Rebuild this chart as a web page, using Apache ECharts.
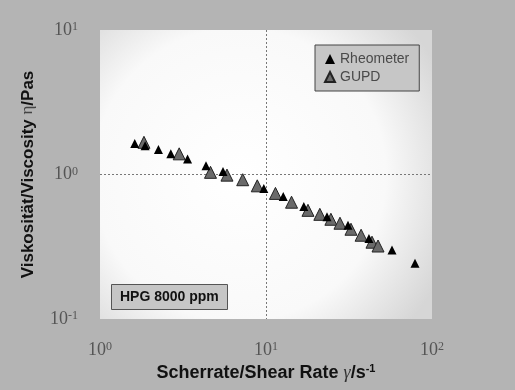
<!DOCTYPE html>
<html>
<head>
<meta charset="utf-8">
<script src="https://cdn.jsdelivr.net/npm/echarts@6/dist/echarts.min.js"></script>
<style>
  html, body { margin: 0; padding: 0; background: #b4b4b4; }
  #chart { width: 515px; height: 390px; }
</style>
</head>
<body>
<div id="chart"></div>
<script>
// Rheometer measurements (shear rate 1/s, viscosity Pa s)
const rheoX = [1.62, 1.87, 2.25, 2.67, 3.37, 4.35, 5.51, 9.7, 12.7, 16.9, 23.3, 31.2, 41.7, 57.4, 79]
const rheoY = [1.64, 1.58, 1.49, 1.39, 1.28, 1.15, 1.05, 0.80, 0.705, 0.60, 0.51, 0.445, 0.36, 0.30, 0.243]

// GUPD measurements
const gupdX = [1.84, 3.0, 4.63, 5.82, 7.24, 8.86, 11.4, 14.25, 17.9, 21.1, 24.6, 27.9, 32.5, 37.4, 43.5, 47.3]
const gupdY = [1.67, 1.39, 1.035, 0.99, 0.92, 0.835, 0.74, 0.643, 0.565, 0.53, 0.49, 0.46, 0.418, 0.38, 0.34, 0.32]

const xTickLabels = { 1: '0', 10: '1', 100: '2' }
const yTickLabels = { 0.1: '-1', 1: '0', 10: '1' }

const pairs = (xs, ys) => xs.map((x, i) => [x, ys[i]])

const tickRich = {
  b: { fontFamily: 'Liberation Serif', fontSize: 18, color: '#555', lineHeight: 18 },
  s: { fontFamily: 'Liberation Serif', fontSize: 12, color: '#555', lineHeight: 12, verticalAlign: 'top' },
}

const chart = echarts.init(document.getElementById('chart'), null, { renderer: 'canvas' })

chart.setOption({
  animation: false,
  backgroundColor: '#b4b4b4',
  title: {
    text: 'HPG 8000 ppm',
    left: 111,
    top: 284,
    backgroundColor: '#c6c6c6',
    borderColor: '#555',
    borderWidth: 1,
    padding: [6, 9],
    textStyle: { fontFamily: 'Liberation Sans', fontSize: 14, fontWeight: 'bold', color: '#111' },
  },
  legend: {
    orient: 'vertical',
    left: 315,
    top: 45,
    padding: [7, 10, 7, 9],
    itemGap: 4,
    itemWidth: 10,
    itemHeight: 10,
    backgroundColor: '#c6c6c6',
    borderColor: '#444',
    borderWidth: 1,
    borderRadius: 0,
    textStyle: { fontFamily: 'Liberation Sans', fontSize: 14, color: '#4a4a4a' },
    data: ['Rheometer', 'GUPD'],
  },
  grid: {
    left: 100,
    right: 83,
    top: 30,
    bottom: 71,
    show: true,
    borderWidth: 0,
    backgroundColor: {
      type: 'radial', x: 0.42, y: 0.5, r: 0.78,
      colorStops: [
        { offset: 0, color: '#ffffff' },
        { offset: 0.65, color: '#f9f9f9' },
        { offset: 1, color: '#d6d6d6' },
      ],
    },
  },
  xAxis: {
    type: 'log',
    logBase: 10,
    min: 1,
    max: 100,
    name: '{t|Scherrate/Shear Rate }{g|γ}{t|/s}{e|-1}',
    nameLocation: 'middle',
    nameGap: 44,
    nameTextStyle: {
      rich: {
        t: { fontFamily: 'Liberation Sans', fontSize: 18, fontWeight: 'bold', color: '#111', lineHeight: 18 },
        g: { fontFamily: 'Liberation Serif', fontSize: 18, fontStyle: 'italic', color: '#333', lineHeight: 18 },
        e: { fontFamily: 'Liberation Sans', fontSize: 11, fontWeight: 'bold', color: '#111', lineHeight: 11, verticalAlign: 'top' },
      },
    },
    axisLine: { show: false },
    axisTick: { show: false },
    axisLabel: {
      margin: 22,
      formatter: (v) => `{b|10}{s|${xTickLabels[Math.round(v)] ?? ''}}`,
      rich: tickRich,
    },
    splitLine: {
      show: true,
      lineStyle: { color: ['transparent', '#777', 'transparent'], type: [2, 2], width: 1 },
    },
  },
  yAxis: {
    type: 'log',
    logBase: 10,
    min: 0.1,
    max: 10,
    name: '{t|Viskosität/Viscosity }{g|η}{t|/Pas}',
    nameLocation: 'middle',
    nameGap: 63,
    nameRotate: 90,
    nameTextStyle: {
      rich: {
        t: { fontFamily: 'Liberation Sans', fontSize: 17, fontWeight: 'bold', color: '#111', lineHeight: 18 },
        g: { fontFamily: 'Liberation Serif', fontSize: 17, color: '#444', lineHeight: 18 },
      },
    },
    axisLine: { show: false },
    axisTick: { show: false },
    axisLabel: {
      margin: 22,
      formatter: (v) => {
        const k = v < 0.5 ? 0.1 : v < 5 ? 1 : 10
        return `{b|10}{s|${yTickLabels[k]}}`
      },
      rich: tickRich,
    },
    splitLine: {
      show: true,
      lineStyle: { color: ['transparent', '#777', 'transparent'], type: [2, 2], width: 1 },
    },
  },
  series: [
    {
      name: 'GUPD',
      type: 'scatter',
      symbol: 'triangle',
      symbolSize: 12,
      data: pairs(gupdX, gupdY),
      itemStyle: { color: '#6a6a6a', borderColor: '#222', borderWidth: 1, opacity: 1 },
      z: 2,
    },
    {
      name: 'Rheometer',
      type: 'scatter',
      symbol: 'triangle',
      symbolSize: 9,
      data: pairs(rheoX, rheoY),
      itemStyle: { color: '#000', opacity: 1 },
      z: 3,
    },
  ],
})
</script>
</body>
</html>
